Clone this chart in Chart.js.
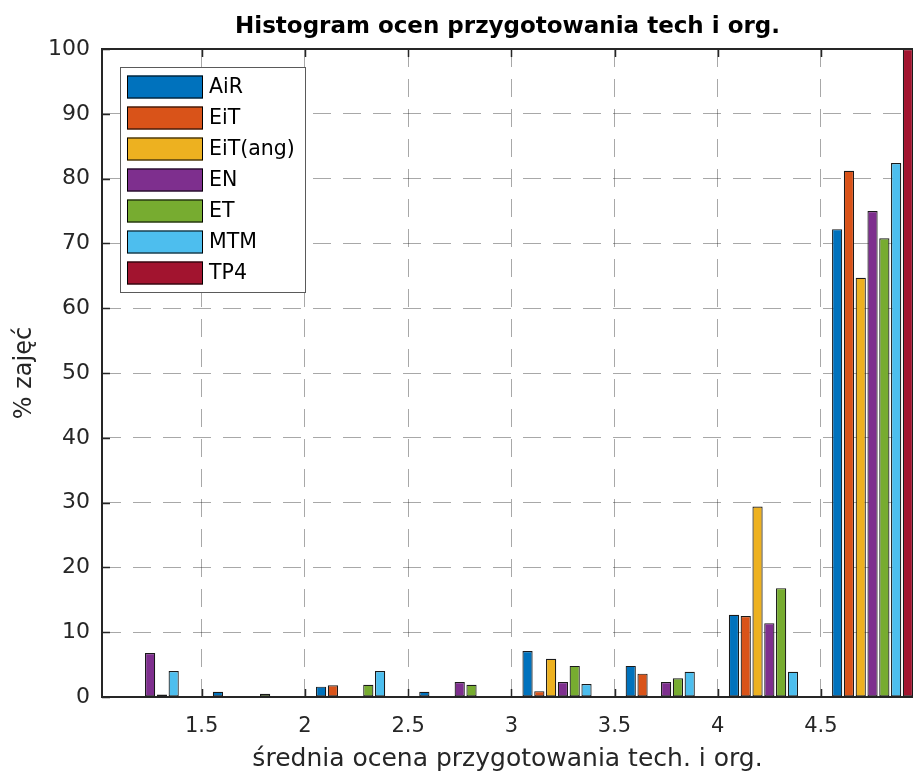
<!DOCTYPE html>
<html><head><meta charset="utf-8">
<script src="https://cdn.jsdelivr.net/npm/chart.js@4.4.1/dist/chart.umd.min.js"></script>
<style>html,body{margin:0;padding:0;background:#fff;overflow:hidden}canvas{display:block}</style>
</head><body>
<canvas id="c" width="913" height="773"></canvas>
<script>
// ---- data ----
const binCenters = [1.25, 1.75, 2.25, 2.75, 3.25, 3.75, 4.25, 4.75];
const seriesNames = ['AiR', 'EiT', 'EiT(ang)', 'EN', 'ET', 'MTM', 'TP4'];
const AiR    = [0,   0.8, 1.6, 0.8, 7.1, 4.8, 12.7, 72.2];
const EiT    = [0,   0,   1.8, 0,   0.9, 3.6, 12.5, 81.2];
const EiTang = [0,   0,   0,   0,   5.9, 0,   29.4, 64.7];
const EN     = [6.8, 0,   0,   2.3, 2.3, 2.3, 11.4, 75.0];
const ET     = [0.4, 0.5, 1.9, 1.9, 4.8, 2.9, 16.8, 70.8];
const MTM    = [4.0, 0,   4.0, 0,   2.0, 3.9, 3.9,  82.4];
const TP4    = [0,   0,   0,   0,   0,   0,   0,    100];
const xTicks = [1.5, 2, 2.5, 3, 3.5, 4, 4.5];
const xTickLabels = ['1.5', '2', '2.5', '3', '3.5', '4', '4.5'];
const yTicks = [0, 10, 20, 30, 40, 50, 60, 70, 80, 90, 100];
const titleText = 'Histogram ocen przygotowania tech i org.';
const xTitle = 'średnia ocena przygotowania tech. i org.';
const yTitle = '% zajęć';

// ---- styling ----
const seriesValues = [AiR, EiT, EiTang, EN, ET, MTM, TP4];
const colors = ['#0072BD', '#D95319', '#EDB120', '#7E2F8E', '#77AC30', '#4DBEEE', '#A2142F'];
const FONT = "'DejaVu Sans', 'Liberation Sans', sans-serif";
const AX = '#262626';
const GRID = 'rgba(38,38,38,0.40)';

Chart.defaults.font.family = FONT;
Chart.defaults.color = AX;

const datasets = seriesNames.map((name, i) => ({
  label: name,
  data: binCenters.map((x, j) => ({x: x, y: seriesValues[i][j]})),
  backgroundColor: colors[i],
  borderColor: '#1a1a1a',
  borderWidth: 1.2,
  borderSkipped: false,
  categoryPercentage: 0.8,
  barPercentage: 0.865
}));

const frameAndLegend = {
  id: 'frameAndLegend',
  afterDraw(chart) {
    const ctx = chart.ctx;
    const {left, right, top, bottom} = chart.chartArea;
    const xs = chart.scales.x, ys = chart.scales.y;
    ctx.save();
    ctx.strokeStyle = AX;
    ctx.lineWidth = 2;
    ctx.beginPath();
    ctx.moveTo(left - 1, top); ctx.lineTo(right, top);
    ctx.stroke();
    ctx.lineWidth = 1.5;
    ctx.beginPath();
    xTicks.forEach(v => {
      const px = Math.round(xs.getPixelForValue(v)) + 0.5;
      ctx.moveTo(px, bottom); ctx.lineTo(px, bottom - 8);
      ctx.moveTo(px, top); ctx.lineTo(px, top + 8);
    });
    yTicks.forEach(v => {
      const py = Math.round(ys.getPixelForValue(v)) + 0.5;
      ctx.moveTo(left, py); ctx.lineTo(left + 8, py);
    });
    ctx.stroke();

    // legend box
    const bx = 120.5, by = 67.5, bw = 185, bh = 225;
    ctx.fillStyle = '#fff';
    ctx.fillRect(bx, by, bw, bh);
    ctx.strokeStyle = '#5a5a5a';
    ctx.lineWidth = 1;
    ctx.strokeRect(bx, by, bw, bh);
    ctx.font = '20.5px ' + FONT;
    ctx.textBaseline = 'middle';
    ctx.textAlign = 'left';
    chart.data.datasets.forEach((ds, i) => {
      const sy = 75.5 + i * 31;
      ctx.fillStyle = ds.backgroundColor;
      ctx.fillRect(127, sy, 76, 23);
      ctx.strokeStyle = '#000';
      ctx.strokeRect(127.5, sy + 0.5, 75, 22);
      ctx.fillStyle = '#000';
      ctx.fillText(ds.label, 209, sy + 12);
    });
    ctx.restore();
  }
};

new Chart(document.getElementById('c'), {
  type: 'bar',
  data: {datasets: datasets},
  plugins: [frameAndLegend],
  options: {
    responsive: false,
    animation: false,
    layout: {padding: {left: 0, right: 0, top: 0, bottom: 0}},
    plugins: {
      legend: {display: false},
      tooltip: {enabled: false},
      title: {
        display: true,
        text: titleText,
        fullSize: false,
        color: '#000',
        font: {size: 23, weight: 'bold', lineHeight: 1},
        padding: {top: 15.5, bottom: 10.5}
      }
    },
    scales: {
      x: {
        type: 'linear',
        min: 1.017,
        max: 4.946,
        offset: false,
        z: 1,
        afterBuildTicks: (s) => { s.ticks = xTicks.map(v => ({value: v})); },
        afterFit: (s) => { s.height = 76; },
        ticks: {
          font: {size: 21},
          padding: 17,
          color: AX,
          maxRotation: 0,
          callback: (v, i) => xTickLabels[i]
        },
        grid: {color: GRID, lineWidth: 1, drawTicks: false, offset: false},
        border: {color: AX, width: 2, dash: [18, 12]},
        title: {
          display: true,
          text: xTitle,
          color: AX,
          font: {size: 25, lineHeight: 1},
          padding: {top: 0, bottom: 1}
        }
      },
      y: {
        min: 0,
        max: 100,
        z: 1,
        afterBuildTicks: (s) => { s.ticks = yTicks.map(v => ({value: v})); },
        afterFit: (s) => { s.width = 102; },
        ticks: {font: {size: 22}, padding: 12, color: AX},
        grid: {color: GRID, lineWidth: 1, drawTicks: false},
        border: {color: AX, width: 2, dash: [18, 12]},
        title: {
          display: true,
          text: yTitle,
          color: AX,
          font: {size: 24, lineHeight: 1},
          padding: {top: 13, bottom: 0}
        }
      }
    }
  }
});
</script>
</body></html>
